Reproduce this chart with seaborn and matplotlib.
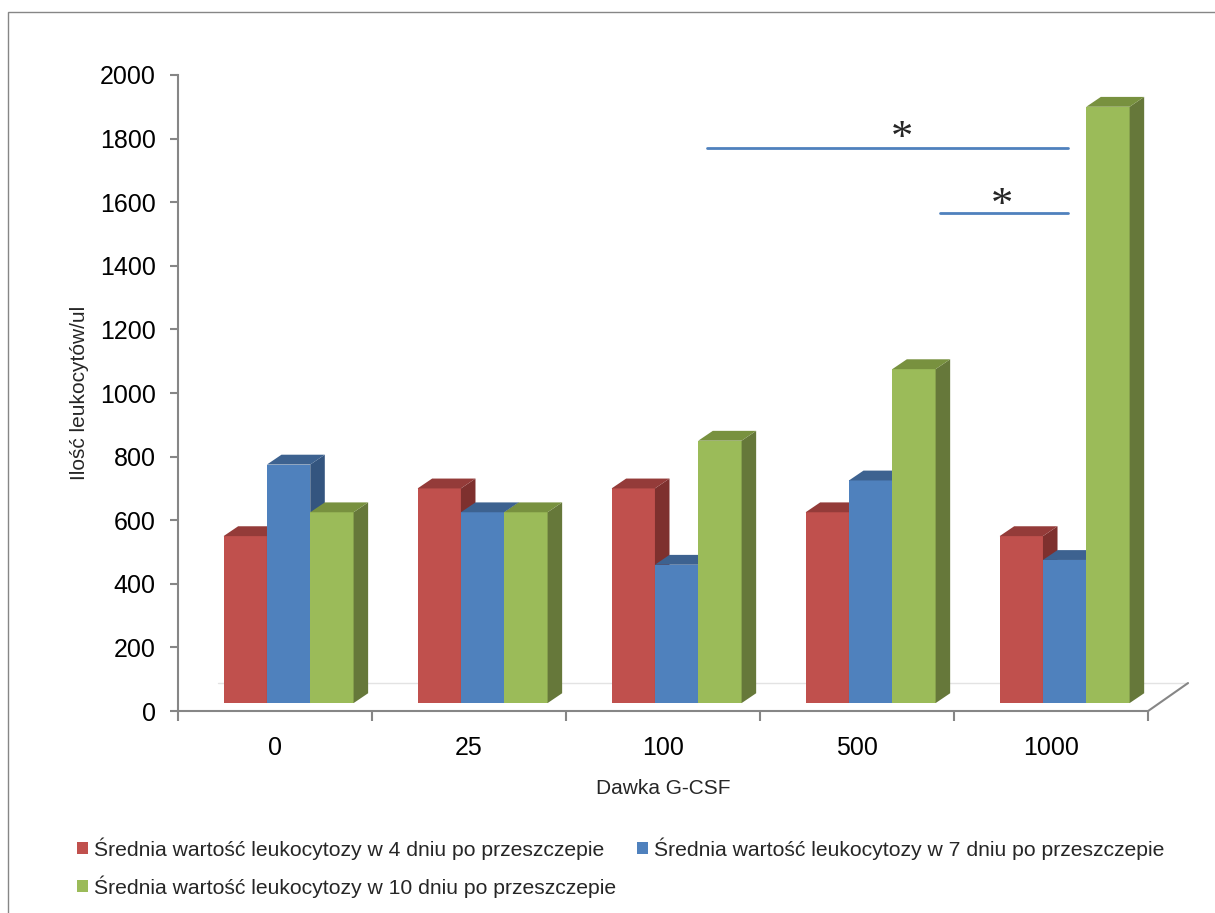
import numpy as np
import pandas as pd
import matplotlib
matplotlib.use("Agg")
import matplotlib.pyplot as plt
from matplotlib.patches import Rectangle, Patch, Polygon
import seaborn as sns

# --- data -------------------------------------------------------------
doses = ["0", "25", "100", "500", "1000"]
series = [
    "Średnia wartość leukocytozy w 4 dniu po przeszczepie",
    "Średnia wartość leukocytozy w 7 dniu po przeszczepie",
    "Średnia wartość leukocytozy w 10 dniu po przeszczepie",
]
day4 = [550, 700, 700, 625, 550]
day7 = [775, 625, 460, 725, 475]
day10 = [625, 625, 850, 1075, 1900]
y_ticks = list(range(0, 2001, 200))

# significance brackets: start / end (category axis), level, star position
sig_start = [2.227, 3.428]
sig_end = [4.088, 4.088]
sig_level = [1770, 1566]
star_x = [3.232, 3.747]
star_base = [1764, 1553]

# --- styling ----------------------------------------------------------
front = ["#C0504D", "#4F81BD", "#9BBB59"]
side = ["#7E302E", "#34557F", "#66783A"]
top = ["#943B39", "#3D6290", "#78913F"]
axis_grey = "#868686"

sns.set_theme(style="white")
plt.rcParams["font.family"] = ["Liberation Sans", "DejaVu Sans"]

df = pd.DataFrame({
    "dose": doses * 3,
    "value": day4 + day7 + day10,
    "series": np.repeat(series, len(doses)),
})

fig = plt.figure(figsize=(12.15, 9.13), dpi=100)
ax = fig.add_axes([0.1465, 0.2212, 0.7984, 0.6967])

sns.barplot(data=df, x="dose", y="value", hue="series", order=doses,
            hue_order=series, palette=front, width=0.67, saturation=1,
            legend=False, linewidth=0, edgecolor="none", ax=ax)

# pseudo-3D extrusion of every bar
depth_x, depth_y = 0.075, 31
shift = 0.07
base = 25
for k, cont in enumerate(ax.containers):
    for p in cont.patches:
        x0 = p.get_x() + shift
        w = p.get_width()
        h = p.get_height()
        p.set_x(x0)
        p.set_y(base)
        p.set_height(h - base)
        p.set_zorder(3 + k)
        x1 = x0 + w
        ax.add_patch(Polygon([(x1, base), (x1 + depth_x, base + depth_y),
                              (x1 + depth_x, h + depth_y), (x1, h)],
                             closed=True, fc=side[k], ec="none", zorder=3 + k))
        ax.add_patch(Polygon([(x0, h), (x0 + depth_x, h + depth_y),
                              (x1 + depth_x, h + depth_y), (x1, h)],
                             closed=True, fc=top[k], ec="none", zorder=3 + k))

# floor outline
ax.plot([-0.294, 4.706], [88, 88], color="#E3E3E3", lw=1, zorder=1, clip_on=False)
ax.plot([4.5, 4.706], [0, 88], color=axis_grey, lw=1.5, zorder=2, clip_on=False)

# significance markers
for xa, xb, lvl, sx, sb in zip(sig_start, sig_end, sig_level, star_x, star_base):
    ax.plot([xa, xb], [lvl, lvl], color="#4F81BD", lw=2, zorder=10)
    ax.text(sx, sb, "*", ha="center", va="baseline", fontsize=32,
            family="Liberation Serif", zorder=10)

ax.set_xlim(-0.5, 4.5)
ax.set_ylim(0, 2000)
ax.set_yticks(y_ticks)
ax.set_yticklabels([str(v) for v in y_ticks], fontsize=18)
ax.set_xticks(range(len(doses)))
ax.set_xticklabels(doses, fontsize=18)
ax.set_xticks(np.arange(-0.5, len(doses)), minor=True)

for s in ["top", "right"]:
    ax.spines[s].set_visible(False)
for s in ["left", "bottom"]:
    ax.spines[s].set_color(axis_grey)
    ax.spines[s].set_linewidth(1.5)

ax.tick_params(axis="y", which="major", left=True, length=6, width=1.5,
               color=axis_grey, pad=10, labelcolor="black")
ax.tick_params(axis="x", which="major", bottom=False, length=0, pad=18,
               labelcolor="black")
ax.tick_params(axis="x", which="minor", bottom=True, length=7, width=1.5,
               color=axis_grey)

ax.set_xlabel("Dawka G-CSF", fontsize=15, labelpad=14)
ax.set_ylabel("Ilość leukocytów/ul", fontsize=15, labelpad=7.5)

# outer chart frame
fig.add_artist(Rectangle((8 / 1215, -0.05), 1.2, (913 - 12) / 913 + 0.05,
                         transform=fig.transFigure, fill=False,
                         ec=axis_grey, lw=1))

handles = [Patch(fc=front[0], ec="none", label=series[0]),
           Patch(fc=front[2], ec="none", label=series[2]),
           Patch(fc=front[1], ec="none", label=series[1])]
fig.legend(handles=handles, ncol=2, loc="upper left",
           bbox_to_anchor=(77 / 1215, 1 - 837 / 913), frameon=False,
           fontsize=15.2, handlelength=0.5, handleheight=0.5,
           handletextpad=0.3, columnspacing=1.0, labelspacing=0.74,
           borderpad=0, borderaxespad=0)

fig.savefig("out.png", dpi=100)
